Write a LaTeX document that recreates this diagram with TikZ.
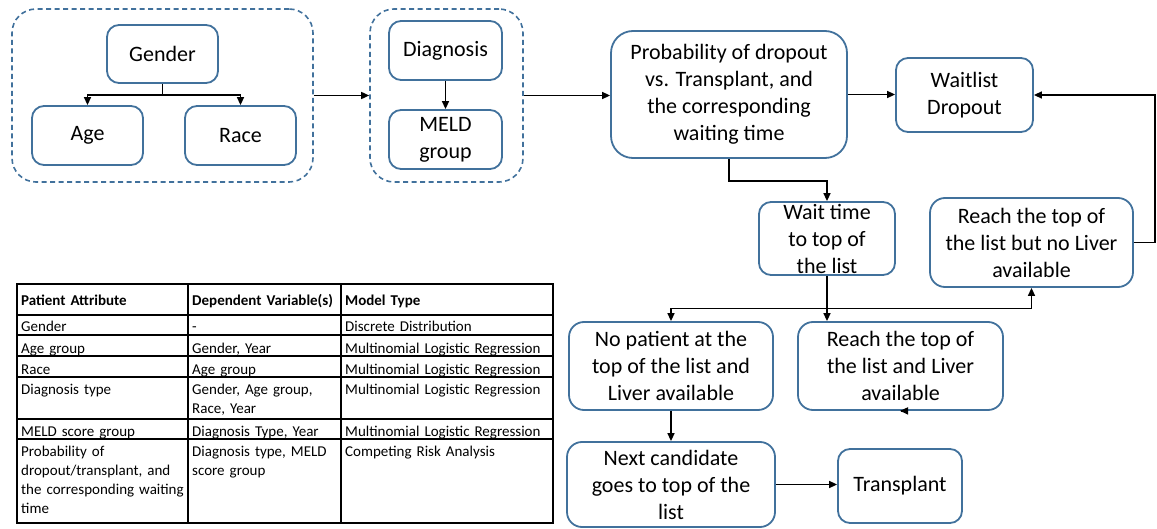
\documentclass[tikz,border=0pt]{standalone}
\usepackage{fontspec}
\setmainfont{Carlito}
\usetikzlibrary{arrows.meta}
\definecolor{boxblue}{RGB}{65,113,156}

\begin{document}
\begin{tikzpicture}[x=1pt,y=-1pt,
    box/.style={draw=boxblue,line width=1.8pt,rounded corners=12pt,align=center,
      inner sep=0pt,font=\fontsize{22}{27}\selectfont},
    group/.style={draw=boxblue,line width=1.6pt,dash pattern=on 5pt off 3.5pt,
      rounded corners=24pt,inner sep=0pt},
    link/.style={line width=1.5pt,-{Triangle[length=8pt,width=7pt]}},
    cell/.style={anchor=base west,inner sep=0pt,align=left,text width=#1,
      font=\fontsize{15}{19}\selectfont},
    cell/.default=160pt]
  \useasboundingbox (0,0) rectangle (1157,529);

  % patient groups
  \node[group,minimum width=301,minimum height=173] (grpDemo) at (162.5,95.5) {};
  \node[group,minimum width=153,minimum height=173] (grpClin) at (446.5,95.5) {};
  \node[box,minimum width=111,minimum height=58] (gender) at (162.5,54) {Gender};
  \node[box,minimum width=111,minimum height=59] (age) at (87.5,135.5) {Age};
  \node[box,minimum width=111,minimum height=59] (race) at (240.5,135.5) {Race};
  \node[box,minimum width=113,minimum height=59] (diag) at (445.5,50.5) {Diagnosis};
  \node[box,minimum width=113,minimum height=59] (meld) at (445.5,139.5) {MELD\\group};

  % waitlist flow
  \node[box,rounded corners=22pt,minimum width=236,minimum height=127] (prob) at (729,94.5)
    {Probability of dropout\\vs. Transplant, and\\the corresponding\\waiting time};
  \node[box,minimum width=137,minimum height=74] (dropout) at (964.5,95) {Waitlist\\Dropout};
  \node[box,minimum width=136,minimum height=73] (waittime) at (827,238.5)
    {Wait time\\to top of\\the list};
  \node[box,rounded corners=15pt,minimum width=203,minimum height=89] (noliver) at (1031.5,242.5)
    {Reach the top of\\the list but no Liver\\available};
  \node[box,rounded corners=15pt,minimum width=204,minimum height=88] (nopatient) at (671,366)
    {No patient at the\\top of the list and\\Liver available};
  \node[box,rounded corners=15pt,minimum width=205,minimum height=88] (liver) at (900.5,366)
    {Reach the top of\\the list and Liver\\available};
  \node[box,rounded corners=15pt,minimum width=208,minimum height=85] (nextcand) at (671,484.5)
    {Next candidate\\goes to top of the\\list};
  \node[box,minimum width=124,minimum height=74] (transplant) at (900,486) {Transplant};

  \coordinate (jDemo) at (162.5,95);
  \coordinate (jProb) at (729,181);
  \coordinate (jWait) at (827,308.5);
  \coordinate (jBack) at (1155,95);

  \draw[line width=1.5pt] (gender.south) -- (jDemo);
  \draw[link] (jDemo) -| (age.north);
  \draw[link] (jDemo) -| (race.north);
  \draw[link] (diag) -- (meld);
  \draw[link] (grpDemo.east) -- (grpClin.west);
  \draw[link] (grpClin.east) -- (grpClin.east -| prob.west);
  \draw[link] (prob.east) -- (prob.east -| dropout.west);
  \draw[link] (prob.south) -- (jProb) -| (waittime.north);
  \draw[link] (waittime.south) -- (waittime.south |- liver.north);
  \draw[link] (jWait) -| (nopatient.north);
  \draw[link] (jWait) -| (noliver.south);
  \draw[link] (noliver.east) -| (jBack) -- (dropout.east);
  \draw[link] (nopatient) -- (nextcand);
  \draw[link] (liver.south) -- (liver.south -| transplant.north);
  \draw[link] (nextcand.east) -- (nextcand.east -| transplant.west);

  % model table
  \draw[line width=1.8pt] (17,284) rectangle (553,523);
  \draw[line width=1.2pt] (188,284) -- (188,523) (341,284) -- (341,523);
  \draw[line width=1.2pt] (17,315) -- (553,315) (17,335) -- (553,335) (17,356) -- (553,356)
    (17,377) -- (553,377) (17,419) -- (553,419) (17,439) -- (553,439);

  \node[cell,font=\fontsize{15}{19}\selectfont\bfseries] (hAttr) at (21,306) {Patient Attribute};
  \node[cell=145pt,font=\fontsize{15}{19}\selectfont\bfseries] (hDep) at (192,306) {Dependent Variable(s)};
  \node[cell=210pt,font=\fontsize{15}{19}\selectfont\bfseries] (hModel) at (345,306) {Model Type};

  \node[cell] (a1) at (21,332) {Gender};
  \node[cell=145pt] (d1) at (192,332) {-};
  \node[cell=210pt] (m1) at (345,332) {Discrete Distribution};
  \node[cell] (a2) at (21,353) {Age group};
  \node[cell=145pt] (d2) at (192,353) {Gender, Year};
  \node[cell=210pt] (m2) at (345,353) {Multinomial Logistic Regression};
  \node[cell] (a3) at (21,374) {Race};
  \node[cell=145pt] (d3) at (192,374) {Age group};
  \node[cell=210pt] (m3) at (345,374) {Multinomial Logistic Regression};
  \node[cell] (a4) at (21,394) {Diagnosis type};
  \node[cell=145pt] (d4) at (192,394) {Gender, Age group,\\Race, Year};
  \node[cell=210pt] (m4) at (345,394) {Multinomial Logistic Regression};
  \node[cell] (a5) at (21,436) {MELD score group};
  \node[cell=145pt] (d5) at (192,436) {Diagnosis Type, Year};
  \node[cell=210pt] (m5) at (345,436) {Multinomial Logistic Regression};
  \node[cell=170pt] (a6) at (21,456)
    {Probability of\\dropout/transplant, and\\the corresponding waiting\\time};
  \node[cell=145pt] (d6) at (192,456) {Diagnosis type, MELD\\score group};
  \node[cell=210pt] (m6) at (345,456) {Competing Risk Analysis};
\end{tikzpicture}
\end{document}
